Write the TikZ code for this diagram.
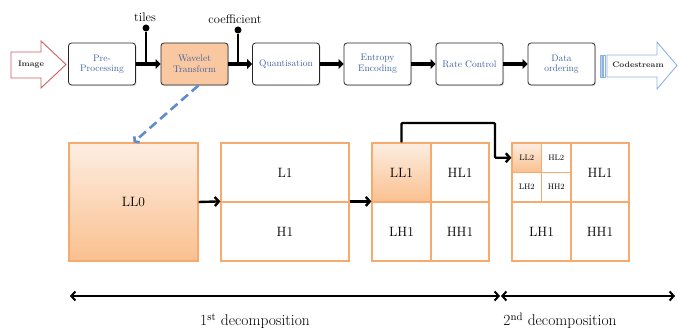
\documentclass[tikz,border=0pt]{standalone}
\usetikzlibrary{arrows.meta,shadows}
\definecolor{obord}{RGB}{247,170,110}
\definecolor{otop}{RGB}{253,238,226}
\definecolor{obot}{RGB}{250,192,143}
\definecolor{wavfill}{RGB}{249,199,160}
\definecolor{tblue}{RGB}{68,100,160}
\definecolor{dblue}{RGB}{95,140,205}
\definecolor{cblue}{RGB}{141,179,226}
\definecolor{ired}{RGB}{205,95,95}
\tikzset{
  procbox/.style={draw=black!85, line width=0.8pt, rounded corners=3pt, fill=white,
    minimum width=67pt, minimum height=42pt, inner sep=1pt, align=center, text=tblue,
    font=\fontsize{9.5}{10.5}\selectfont,
    drop shadow={shadow xshift=1pt, shadow yshift=-1.2pt, opacity=0.25}},
  bigflow/.style={line width=4.5pt, -{Triangle[length=5pt,width=10pt]}},
  pinline/.style={line width=1.4pt},
  pindot/.style={circle, fill=black, inner sep=0pt, minimum size=7pt},
  sub/.style={draw=obord, line width=1.2pt, fill=white, inner sep=0pt,
    font=\fontsize{13.5}{14}\selectfont},
  subfill/.style={sub, top color=otop, bottom color=obot},
  small/.style={font=\fontsize{8}{9}\selectfont},
  decoarrow/.style={line width=2pt, {Straight Barb[length=4pt,width=9pt]}-{Straight Barb[length=4pt,width=9pt]}},
  flow/.style={line width=2.4pt, -{Straight Barb[length=4pt,width=9pt]}},
  lbl/.style={font=\fontsize{12.5}{13}\selectfont, inner sep=0pt}
}
\begin{document}
\begin{tikzpicture}[x=1pt,y=-1pt]
\useasboundingbox (0,0) rectangle (678,331);

% Image arrow
\draw[ired, line width=0.9pt, fill=white] (11,52) -- (41,52) -- (41,41) -- (66,64.5) -- (41,88) -- (41,78) -- (11,78) -- cycle;
\node[font=\fontsize{8}{9}\selectfont\bfseries, text=black!80] (img) at (31,65) {Image};

% Codestream arrow
\draw[cblue, line width=0.8pt, fill=cblue!60] (600,55) rectangle (602.5,77);
\draw[cblue, line width=0.8pt, fill=white] (603.5,55) rectangle (605.5,77);
\draw[cblue, line width=0.9pt, fill=white] (607,55) -- (657,55) -- (657,42) -- (677,65.5) -- (657,89) -- (657,77) -- (607,77) -- cycle;
\node[font=\fontsize{8}{9}\selectfont\bfseries, text=black!80] (cs) at (638,65) {Codestream};

% process boxes
\node[procbox] (pre) at (102,64) {Pre-\\Processing};
\node[procbox, fill=wavfill] (wav) at (194.5,64) {Wavelet\\Transform};
\node[procbox] (qua) at (286,64) {Quantisation};
\node[procbox] (ent) at (377.5,64) {Entropy\\Encoding};
\node[procbox] (rat) at (469.5,64) {Rate Control};
\node[procbox] (dat) at (561.5,64) {Data\\ordering};

\draw[bigflow] (pre) -- (wav);
\draw[bigflow] (wav) -- (qua);
\draw[bigflow] (qua) -- (ent);
\draw[bigflow] (ent) -- (rat);
\draw[bigflow] (rat) -- (dat);

% pins
\node[pindot] (tdot) at (146,28) {};
\coordinate (tfoot) at (146,63);
\draw[pinline] (tdot) -- (tfoot);
\node[lbl] (tiles) at (145,17) {tiles};
\node[pindot] (cdot) at (238,30) {};
\coordinate (cfoot) at (238,63);
\draw[pinline] (cdot) -- (cfoot);
\node[lbl] (coef) at (235,19) {coefficient};

% bottom blocks
\node[subfill, minimum width=129pt, minimum height=118pt] (LL0) at (133.5,202) {LL0};

\node[sub, minimum width=128pt, minimum height=59pt] (L1) at (285,172.5) {L1};
\node[sub, minimum width=128pt, minimum height=59pt] (H1) at (285,231.5) {H1};

\node[subfill, minimum width=59pt, minimum height=59pt] (LL1) at (401.5,172.5) {LL1};
\node[sub, minimum width=58pt, minimum height=59pt] (HL1a) at (460,172.5) {HL1};
\node[sub, minimum width=59pt, minimum height=59pt] (LH1a) at (401.5,231.5) {LH1};
\node[sub, minimum width=58pt, minimum height=59pt] (HH1a) at (460,231.5) {HH1};

\node[subfill, small, minimum width=29.5pt, minimum height=29.5pt] (LL2) at (526.75,157.75) {LL2};
\node[sub, small, minimum width=29.5pt, minimum height=29.5pt] (HL2) at (556.25,157.75) {HL2};
\node[sub, small, minimum width=29.5pt, minimum height=29.5pt] (LH2) at (526.75,187.25) {LH2};
\node[sub, small, minimum width=29.5pt, minimum height=29.5pt] (HH2) at (556.25,187.25) {HH2};
\node[sub, minimum width=58pt, minimum height=59pt] (HL1b) at (600,172.5) {HL1};
\node[sub, minimum width=59pt, minimum height=59pt] (LH1b) at (541.5,231.5) {LH1};
\node[sub, minimum width=58pt, minimum height=59pt] (HH1b) at (600,231.5) {HH1};

% flows between blocks
\draw[flow] (LL0.east) -- (H1.north west);
\draw[flow] (H1.north east) -- (LH1a.north west);
\coordinate (bend) at (495,123);
\draw[flow, rounded corners=1pt] (LL1.north) |- (bend) |- (LL2.west);

% dashed link
\draw[dblue, line width=2.6pt, dash pattern=on 9pt off 5pt, -{Straight Barb[length=3pt,width=8pt]}] ([xshift=4pt]wav.south) -- (LL0.north);

% decomposition ranges
\coordinate (d1a) at (70,296);
\coordinate (d1b) at (500,296);
\coordinate (d2a) at (501,296);
\coordinate (d2b) at (675,296);
\draw[decoarrow] (d1a) -- (d1b);
\draw[decoarrow] (d2a) -- (d2b);
\node[font=\fontsize{15.5}{16}\selectfont] (dec1) at (255,321) {1\textsuperscript{st} decomposition};
\node[font=\fontsize{15.5}{16}\selectfont] (dec2) at (560,321) {2\textsuperscript{nd} decomposition};
\end{tikzpicture}
\end{document}
